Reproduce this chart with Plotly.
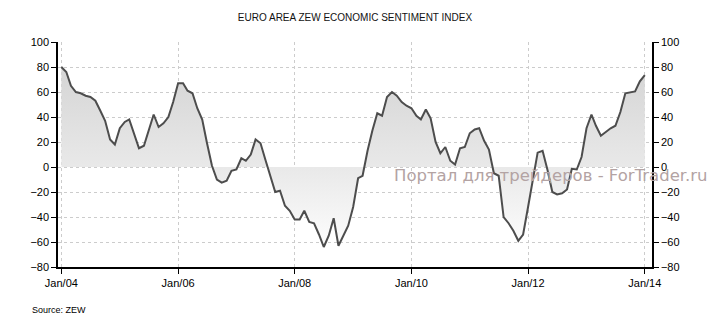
import plotly.graph_objects as go
import pandas as pd

# Monthly values, Jan 2004 .. Jan 2014
values_2004 = [80, 76, 65, 60, 59, 57, 56, 53, 45, 37, 22, 18]
values_2005 = [31, 36, 38, 27, 15, 17, 29, 42, 32, 35, 40, 52]
values_2006 = [67, 67, 61, 59, 47, 38, 19, 1, -10, -12.5, -11, -3]
values_2007 = [-2, 7, 5, 10, 22, 19, 6, -7, -20, -19, -31, -35]
values_2008 = [-42, -42, -35, -44, -45, -54, -64, -55, -41, -63, -55, -47]
values_2009 = [-32, -9, -7, 13, 29, 43, 41, 56, 60, 57, 52, 49]
values_2010 = [47, 41, 38, 46, 39, 20, 11, 16, 5, 2, 15, 16]
values_2011 = [27, 30, 31, 21, 14, -5, -7, -40, -45, -51, -59, -54]
values_2012 = [-32, -11, 11.5, 13, -2, -20, -22, -21, -18, -1.5, -2, 8]
values_2013 = [31, 42, 33, 25, 28, 31, 33, 44, 59, 59.5, 60.5, 68.5]
values_2014 = [73.5]

values = (values_2004 + values_2005 + values_2006 + values_2007 + values_2008 +
          values_2009 + values_2010 + values_2011 + values_2012 + values_2013 + values_2014)
dates = pd.date_range("2004-01-01", periods=len(values), freq="MS")

y_ticks = [100, 80, 60, 40, 20, 0, -20, -40, -60, -80]
x_tick_labels = ["Jan/04", "Jan/06", "Jan/08", "Jan/10", "Jan/12", "Jan/14"]
x_tick_vals = pd.to_datetime(["2004-01-01", "2006-01-01", "2008-01-01", "2010-01-01", "2012-01-01", "2014-01-01"])

title_text = "EURO AREA ZEW ECONOMIC SENTIMENT INDEX"
source_text = "Source: ZEW"
watermark_text = "Портал для трейдеров - ForTrader.ru"

fig = go.Figure()
fig.add_trace(go.Scatter(
    x=dates, y=values, mode="lines",
    line=dict(color="#4d4d4d", width=2),
    fill="tozeroy",
    fillgradient=dict(type="vertical", start=-80, stop=100,
                      colorscale=[[0, "#ffffff"], [0.12, "#fbfbfb"], [0.44, "#e9e9e9"],
                                  [0.9, "#d4d4d4"], [1, "#d0d0d0"]]),
    hoverinfo="skip", showlegend=False,
))
fig.add_trace(go.Scatter(
    x=dates, y=values, mode="lines", yaxis="y2",
    line=dict(color="rgba(0,0,0,0)", width=0),
    hoverinfo="skip", showlegend=False,
))

tick_font = dict(family="Liberation Sans, Arial, sans-serif", size=11, color="#000000")
axis_common = dict(
    range=[-80, 100], tickvals=y_ticks, ticks="outside", ticklen=5, tickcolor="#000",
    showline=True, linecolor="#000", linewidth=1.5, zeroline=False,
    tickfont=tick_font,
)

fig.update_layout(
    width=710, height=325,
    margin=dict(l=58, r=58, t=42, b=58),
    paper_bgcolor="#ffffff", plot_bgcolor="#ffffff",
    title=dict(text=title_text, x=0.5, xanchor="center", y=0.945, yanchor="middle",
               font=dict(family="Liberation Sans, Arial, sans-serif", size=10, color="#111")),
    xaxis=dict(
        type="date", range=["2003-12-11", "2014-02-15"],
        tickvals=x_tick_vals, ticktext=x_tick_labels,
        ticks="outside", ticklen=5, tickcolor="#000",
        showline=True, linecolor="#000", linewidth=1.5, zeroline=False,
        showgrid=True, gridcolor="#cccccc", griddash="dot", gridwidth=1,
        tickfont=tick_font,
    ),
    yaxis=dict(**axis_common, side="left", showgrid=True, gridcolor="#cccccc",
               griddash="dot", gridwidth=1),
    yaxis2=dict(**axis_common, side="right", overlaying="y", showgrid=False),
    annotations=[
        dict(text=watermark_text, xref="paper", yref="paper", x=0.563, y=0.4076,
             xanchor="left", yanchor="middle", showarrow=False,
             font=dict(family="DejaVu Sans, sans-serif", size=16.5, color="#b3a3a3")),
        dict(text=source_text, xref="paper", yref="paper", x=-0.0477, y=-0.19,
             xanchor="left", yanchor="middle", showarrow=False,
             font=dict(family="Liberation Sans, Arial, sans-serif", size=9, color="#000")),
    ],
)

fig.write_html("out.html")
